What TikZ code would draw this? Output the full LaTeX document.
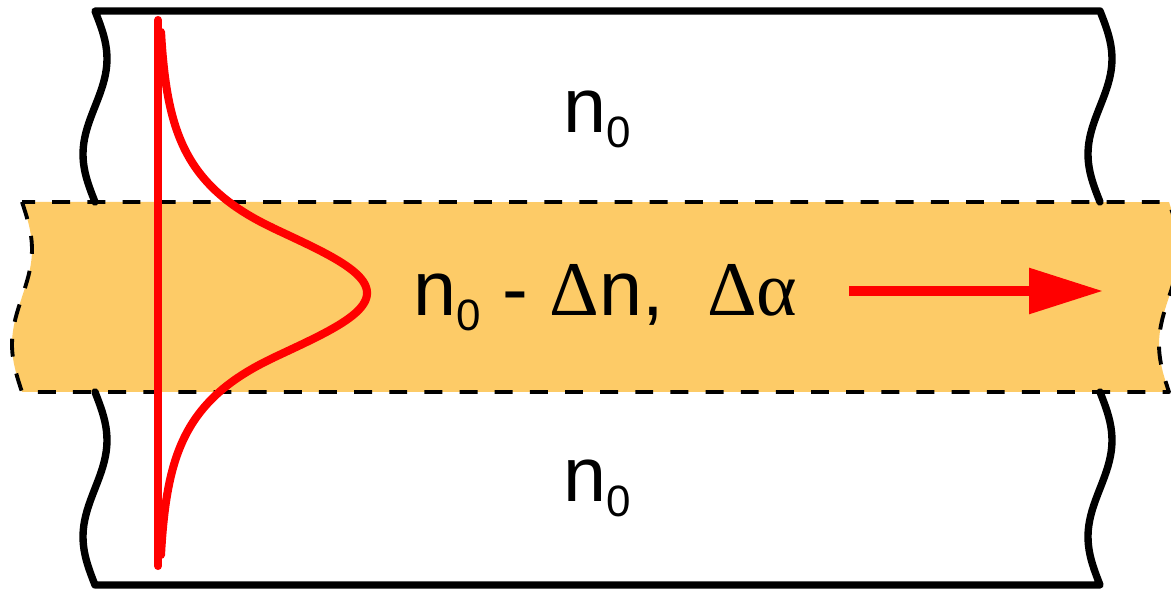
\documentclass[tikz,border=0pt]{standalone}
\usepackage{fontspec}
\setmainfont{Liberation Sans}
\newfontfamily\grk{Liberation Serif}
\usetikzlibrary{arrows.meta}
\definecolor{coreorange}{RGB}{253,203,103}
\newcommand{\sbs}[1]{\raisebox{-4pt}{\fontsize{12.5}{12.5}\selectfont #1}}

\begin{document}
\begin{tikzpicture}[line join=round, line cap=round, font=\fontsize{22}{26}\selectfont,
	wall/.style={line width=2.1pt},
	coreband/.style={fill=coreorange, draw=black, line width=1.1pt, line cap=butt, dash pattern=on 5.1pt off 4.9pt},
	mode/.style={red, line width=2.3pt},
	lbl/.style={inner sep=0pt, anchor=base}]
	\useasboundingbox (0,0) rectangle (11.71,5.92);
	\tikzset{declare function={wave(\t)=sin(360*\t); tail(\t)=1.15*exp(-(abs(\t)-0.65)/0.54); cap(\t)=2.09*exp(-(\t)*(\t)/0.7056);}}
	% core layer
	\filldraw[coreband] plot[domain=0:1,samples=40] ({0.22+0.10*wave(\x)},{3.90-1.90*\x})
		-- plot[domain=1:0,samples=40] ({11.69+0.10*wave(\x)},{3.90-1.90*\x}) -- cycle;
	% cladding borders
	\draw[wall] plot[domain=1:0,samples=40] ({0.95+0.12*wave(\x)},{5.81-1.91*\x})
		-- plot[domain=0:1,samples=40] ({11.00+0.12*wave(\x)},{5.81-1.91*\x});
	\draw[wall] plot[domain=0:1,samples=40] ({0.95+0.12*wave(\x)},{2.00-1.93*\x})
		-- plot[domain=1:0,samples=40] ({11.00+0.12*wave(\x)},{2.00-1.93*\x});
	% mode profile
	\draw[mode] (1.58,5.72) -- (1.58,0.26);
	\draw[mode] plot[domain=2.61:0.65,samples=60] ({1.58+tail(\x)},{2.99+\x})
		-- plot[domain=0.65:-0.65,samples=60] ({1.58+cap(\x)},{2.99+\x})
		-- plot[domain=-0.65:-2.62,samples=60] ({1.58+tail(\x)},{2.99+\x});
	\node[lbl] (ntop) at (5.975,4.59) {n\sbs{0}};
	\node[lbl] (ncore) at (6.055,2.76) {n\sbs{0} - {\grk Δ}n,~~{\grk Δα}};
	\node[lbl] (nbot) at (5.975,0.90) {n\sbs{0}};
	\coordinate (flowstart) at (8.49,3.01);
	\coordinate (flowtip) at (11.03,3.01);
	\draw[red, line width=2.6pt, line cap=butt, -{Triangle[length=0.74cm,width=0.44cm]}] (flowstart) -- (flowtip);
\end{tikzpicture}
\end{document}
